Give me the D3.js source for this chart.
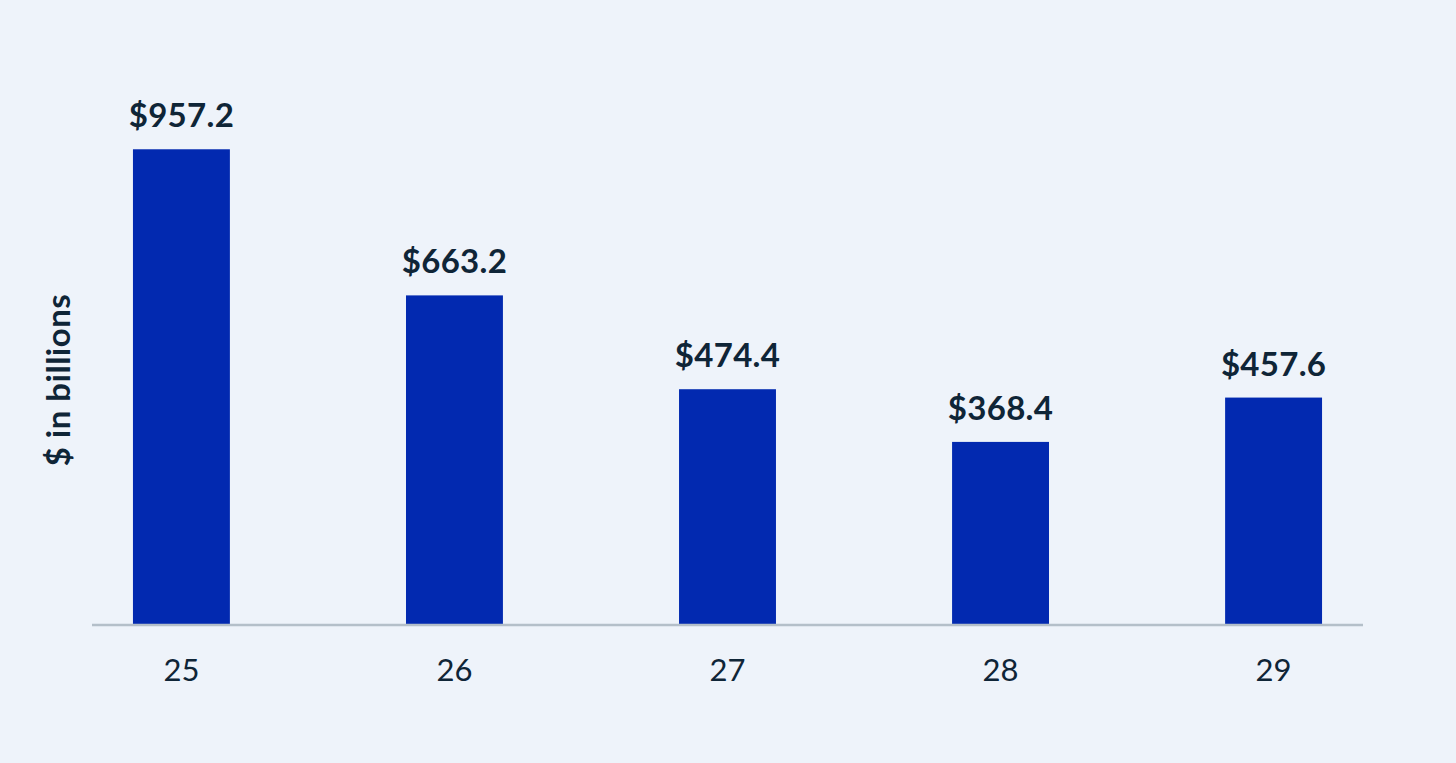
<!DOCTYPE html>
<html>
<head>
<meta charset="utf-8">
<script src="https://cdn.jsdelivr.net/npm/d3@7"></script>
<style>
  html, body { margin: 0; padding: 0; background: #eef3fa; }
  svg { display: block; }
</style>
</head>
<body>
<div id="chart"></div>
<script>
var categories = ["25", "26", "27", "28", "29"];
var values = [957.2, 663.2, 474.4, 368.4, 457.6];
var valueLabels = ["$957.2", "$663.2", "$474.4", "$368.4", "$457.6"];
var yTitle = "$ in billions";

var width = 1456, height = 763;
var font = "Lato, 'Open Sans', sans-serif";

var svg = d3.select("#chart")
  .append("svg")
  .attr("width", width)
  .attr("height", height);

svg.append("rect")
  .attr("width", width)
  .attr("height", height)
  .attr("fill", "#eef3fa");

var x = d3.scaleBand()
  .domain(categories)
  .range([92, 1363])
  .paddingInner(0.645)
  .paddingOuter(0.15);

var y = d3.scaleLinear()
  .domain([0, 1000])
  .range([625, 128]);

// bars
svg.selectAll("rect.bar")
  .data(values)
  .enter().append("rect")
    .attr("class", "bar")
    .attr("x", function(d, i) { return x(categories[i]); })
    .attr("y", function(d) { return y(d); })
    .attr("width", x.bandwidth())
    .attr("height", function(d) { return y(0) - y(d); })
    .attr("fill", "#0229b0");

// value labels
svg.selectAll("text.value")
  .data(values)
  .enter().append("text")
    .attr("class", "value")
    .attr("x", function(d, i) { return x(categories[i]) + x.bandwidth() / 2; })
    .attr("y", function(d) { return y(d) - 22; })
    .attr("text-anchor", "middle")
    .attr("font-family", font)
    .attr("font-weight", 700)
    .attr("font-size", "33px")
    .attr("letter-spacing", "0.3px")
    .attr("fill", "#0f2537")
    .text(function(d, i) { return valueLabels[i]; });

// x axis
var xAxis = svg.append("g")
  .attr("transform", "translate(0," + y(0) + ")")
  .call(d3.axisBottom(x).tickSize(0).tickPadding(0).tickSizeOuter(0));

xAxis.select(".domain")
  .attr("stroke", "#b4bfc9")
  .attr("stroke-width", 2.5)
  .attr("d", "M92,0H1363");

xAxis.selectAll(".tick text")
  .attr("dy", null)
  .attr("y", 56)
  .attr("font-family", font)
  .attr("font-size", "31px")
  .attr("fill", "#0f2537");

// y title
svg.append("text")
  .attr("transform", "translate(70,380) rotate(-90)")
  .attr("text-anchor", "middle")
  .attr("font-family", font)
  .attr("font-weight", 700)
  .attr("font-size", "33px")
  .attr("letter-spacing", "0.5px")
  .attr("fill", "#0f2537")
  .text(yTitle);
</script>
</body>
</html>
